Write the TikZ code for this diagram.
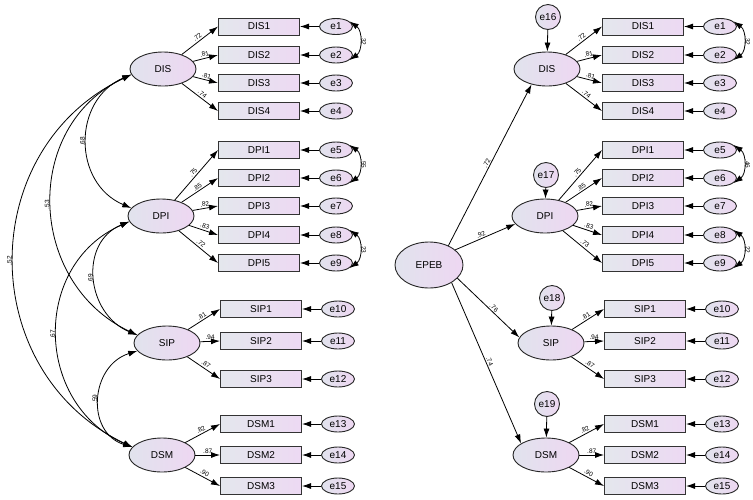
\documentclass[tikz,border=0pt]{standalone}
\usepackage{fontspec}
\setmainfont{Liberation Sans}
\usetikzlibrary{arrows.meta,shapes.geometric}

\definecolor{latL}{RGB}{225,227,237}
\definecolor{latR}{RGB}{238,215,242}
\definecolor{boxL}{RGB}{228,231,237}
\definecolor{boxR}{RGB}{237,217,243}

\tikzset{
  lat/.style={ellipse, draw=black!85, line width=0.9pt, minimum width=66pt, minimum height=34pt, inner sep=0pt, left color=latL, right color=latR, font=\fontsize{10}{12}\selectfont},
  ind/.style={rectangle, draw=black!80, line width=1pt, minimum width=81pt, minimum height=17pt, inner sep=0pt, left color=boxL, right color=boxR, font=\fontsize{10}{12}\selectfont},
  err/.style={ellipse, draw=black!85, line width=0.9pt, minimum width=33pt, minimum height=16pt, inner sep=0pt, left color=latL, right color=latR, font=\fontsize{10}{12}\selectfont},
  dist/.style={circle, draw=black!85, line width=0.9pt, minimum size=25pt, inner sep=0pt, left color=latL, right color=latR, font=\fontsize{10}{12}\selectfont},
  path/.style={-{Latex[length=9pt,width=6pt]}, line width=0.8pt},
  cov/.style={{Latex[length=9pt,width=6pt]}-{Latex[length=9pt,width=6pt]}, line width=0.8pt},
  coef/.style={font=\fontsize{6.5}{7}\selectfont, inner sep=1pt},
}

\begin{document}
\begin{tikzpicture}[x=1pt,y=-1pt]
\useasboundingbox (0,0) rectangle (753,499);
% first-order factors, both models
\foreach \s/\dx in {L/0,R/384}{
  \node[lat] (\s DIS) at (163+\dx,69) {DIS};
  \node[lat] (\s DPI) at (161+\dx,216) {DPI};
  \node[lat] (\s SIP) at (167+\dx,343) {SIP};
  \node[lat] (\s DSM) at (162+\dx,455) {DSM};
}
% indicators with their errors
\foreach \s/\dx/\dpifive in {L/0/.72, R/384/.73}{
  \foreach \n/\y/\bx/\f/\ld/\ei in {DIS1/26.5/259/DIS/.72/1, DIS2/55/259/DIS/.81/2, DIS3/83/259/DIS/.81/3, DIS4/111/259/DIS/.74/4,
      DPI1/150/259/DPI/.75/5, DPI2/178/259/DPI/.85/6, DPI3/206/259/DPI/.82/7, DPI4/235/259/DPI/.83/8, DPI5/263/259/DPI/\dpifive/9,
      SIP1/309/261/SIP/.81/10, SIP2/341/261/SIP/.94/11, SIP3/379/261/SIP/.87/12,
      DSM1/424/261/DSM/.82/13, DSM2/455/261/DSM/.87/14, DSM3/486/261/DSM/.90/15}{
    \node[ind] (\s\n) at (\bx+\dx,\y) {\n};
    \node[err] (\s e\ei) at (\bx+\dx+77,\y) {e\ei};
    \draw[path] (\s\f) -- (\s\n.west) node[pos=0.5,sloped,above=0.5pt,coef] {\ld};
    \draw[path] (\s e\ei) -- (\s\n);
  }
}
% correlated errors
\foreach \s/\a/\b/\c in {L/.32/.55/.23, R/.32/.46/.22}{
  \draw[cov] (\s e1.20) .. controls +(13,9) and +(13,-9) .. (\s e2.-20) node[midway,right=0.5pt,coef] {\rotatebox{-90}{\a}};
  \draw[cov] (\s e5.20) .. controls +(13,9) and +(13,-9) .. (\s e6.-20) node[midway,right=0.5pt,coef] {\rotatebox{-90}{\b}};
  \draw[cov] (\s e8.20) .. controls +(13,9) and +(13,-9) .. (\s e9.-20) node[midway,right=0.5pt,coef] {\rotatebox{-90}{\c}};
}
% factor correlations (left model)
\draw[cov] (LDIS.190) .. controls +(-59,25) and +(-59,-25) .. (LDPI.165) node[midway,left=1pt,coef] {\rotatebox{90}{.68}};
\draw[cov] (LDIS.190) .. controls +(-110,52) and +(-110,-52) .. (LSIP.165) node[midway,left=1pt,coef] {\rotatebox{90}{.53}};
\draw[cov] (LDIS.190) .. controls +(-157,75) and +(-157,-75) .. (LDSM.165) node[midway,left=1pt,coef] {\rotatebox{90}{.52}};
\draw[cov] (LDPI.190) .. controls +(-51,21) and +(-51,-21) .. (LSIP.165) node[midway,left=1pt,coef] {\rotatebox{90}{.69}};
\draw[cov] (LDPI.190) .. controls +(-98,43) and +(-98,-43) .. (LDSM.165) node[midway,left=1pt,coef] {\rotatebox{90}{.67}};
\draw[cov] (LSIP.195) .. controls +(-47,14.5) and +(-47,-14.5) .. (LDSM.165) node[midway,left=1pt,coef] {\rotatebox{90}{.59}};
% second-order factor (right model)
\node[lat, minimum width=68pt, minimum height=46pt] (EPEB) at (429,265) {EPEB};
\node[dist] (e16) at (548,17) {e16};
\node[dist] (e17) at (546,175) {e17};
\node[dist] (e18) at (552,298) {e18};
\node[dist] (e19) at (547,404) {e19};
\draw[path] (e16) -- (RDIS);
\draw[path] (e17) -- (RDPI);
\draw[path] (e18) -- (RSIP);
\draw[path] (e19) -- (RDSM);
\draw[path] (EPEB.45) -- (RDIS.225) node[midway,sloped,above,coef] {.72};
\draw[path] (EPEB.30) -- (RDPI.195) node[pos=0.45,sloped,above,coef] {.92};
\draw[path] (EPEB.-25) -- (RSIP.170) node[pos=0.55,sloped,above,coef] {.76};
\draw[path] (EPEB.-38) -- (RDSM.155) node[midway,sloped,above,coef] {.74};
\end{tikzpicture}
\end{document}
